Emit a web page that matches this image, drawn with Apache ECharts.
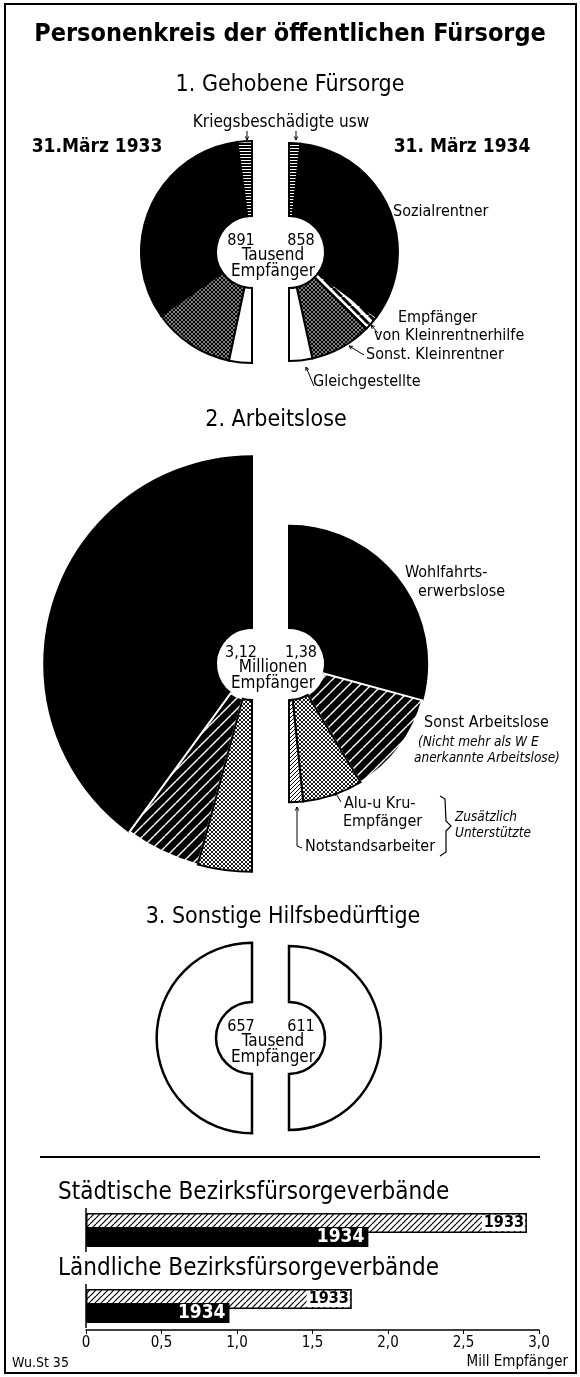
<!DOCTYPE html>
<html>
<head>
<meta charset="utf-8">
<script src="https://cdn.jsdelivr.net/npm/echarts@6/dist/echarts.min.js"></script>
<style>
html, body { margin: 0; padding: 0; background: #fff; }
#main { width: 580px; height: 1377px; }
</style>
</head>
<body>
<div id="main"></div>
<script>
/*
 *  ========== Daten (Tausend Empfänger) ==========
 */
var gehobenNames = ['Kriegsbeschädigte usw', 'Sozialrentner', 'Empfänger von Kleinrentnerhilfe', 'Sonst. Kleinrentner', 'Gleichgestellte'];
var gehoben1933 = [38, 581, 0, 213, 59];
var gehoben1934 = [29, 575, 38, 157, 59];

var arbeitsNames = ['Wohlfahrtserwerbslose', 'Sonst Arbeitslose', 'Alu-u Kru-Empfänger', 'Notstandsarbeiter'];
var arbeits1933 = [2494, 364, 262, 0];
var arbeits1934 = [807, 334, 194, 45];

var sonstigeNames = ['Sonstige Hilfsbedürftige'];
var sonstige1933 = [657];
var sonstige1934 = [611];

// Balken (Mill. Empfänger)
var barCategories = ['Städtische Bezirksfürsorgeverbände', 'Ländliche Bezirksfürsorgeverbände'];
var barYears = ['1933', '1934'];
var bar1933 = [2.92, 1.76];
var bar1934 = [1.87, 0.95];
var xTickLabels = ['0', '0,5', '1,0', '1,5', '2,0', '2,5', '3,0'];

/*
 *  ========== Muster ==========
 */
var FONT = "'DejaVu Sans Condensed', 'DejaVu Sans', sans-serif";

function pattern(size, bg, draw) {
	var c = document.createElement('canvas');
	c.width = size;
	c.height = size;
	var ctx = c.getContext('2d');
	ctx.fillStyle = bg;
	ctx.fillRect(0, 0, size, size);
	draw(ctx, size);
	return { image: c, repeat: 'repeat' };
}

function diag(ctx, s, color, w, back) {
	ctx.strokeStyle = color;
	ctx.lineWidth = w;
	for (var k = -1; k <= 1; k++) {
		ctx.beginPath();
		if (back) {
			ctx.moveTo(k * s, 0);
			ctx.lineTo(k * s + s, s);
		} else {
			ctx.moveTo(k * s, s);
			ctx.lineTo(k * s + s, 0);
		}
		ctx.stroke();
	}
}

var pStripe = pattern(3, '#000', function(ctx, s) {
	ctx.fillStyle = '#fff';
	ctx.fillRect(0, 1, s, 1);
});
var pCrossDark = pattern(4, '#fff', function(ctx, s) {
	diag(ctx, s, '#000', 1.4, false);
	diag(ctx, s, '#000', 1.4, true);
});
var pHatchWide = pattern(9, '#fff', function(ctx, s) {
	diag(ctx, s, '#000', 3, true);
});
var pHatchWhite = pattern(11, '#000', function(ctx, s) {
	diag(ctx, s, '#fff', 1.4, false);
});
var pCrossLight = pattern(4, '#fff', function(ctx, s) {
	diag(ctx, s, '#000', 0.9, false);
	diag(ctx, s, '#000', 0.9, true);
});
var pHatchFine = pattern(4, '#fff', function(ctx, s) {
	diag(ctx, s, '#000', 1, false);
});
var pBar = pattern(6, '#fff', function(ctx, s) {
	diag(ctx, s, '#000', 1.2, false);
});

var gehobenColors = [pStripe, '#000', pHatchWide, pCrossDark, '#fff'];
var gehobenBorders = ['#000', '#000', '#000', '#000', '#000'];
var arbeitsColors = ['#000', pHatchWhite, pCrossLight, pHatchFine];
var arbeitsBorders = ['#000', '#fff', '#000', '#000'];
var sonstigeColors = ['#fff'];
var sonstigeBorders = ['#000'];

/*
 *  ========== Halbkreise ==========
 */
var CX_LEFT = 252, CX_RIGHT = 289, CX_MID = 271;
var HOLE = 36;
var SCALE = 3.72; // Radius ~ Wurzel der Empfängerzahl

function sum(arr) {
	return arr.reduce(function(a, b) { return a + b; }, 0);
}

function halfPie(names, values, colors, borders, cy, left, bw) {
	var data = [];
	values.forEach(function(v, i) {
		if (v > 0) {
			data.push({ name: names[i], value: v, itemStyle: { color: colors[i], borderColor: borders[i] } });
		}
	});
	return {
		type: 'pie',
		silent: true,
		animation: false,
		center: [left ? CX_LEFT : CX_RIGHT, cy],
		radius: [HOLE, SCALE * Math.sqrt(sum(values))],
		startAngle: 90,
		endAngle: left ? 270 : -90,
		clockwise: !left,
		avoidLabelOverlap: false,
		label: { show: false },
		labelLine: { show: false },
		itemStyle: { borderColor: '#000', borderWidth: bw, borderJoin: 'miter' },
		emphasis: { disabled: true },
		data: data
	};
}

var CY1 = 252, CY2 = 664, CY3 = 1038;

function txt(x, y, text, opt) {
	opt = opt || {};
	return {
		type: 'text',
		x: x,
		y: y,
		silent: true,
		style: {
			text: text,
			fill: opt.fill || '#000',
			font: (opt.italic ? 'italic ' : '') + (opt.bold ? 'bold ' : '') + (opt.size || 16) + 'px ' + FONT,
			textAlign: opt.align || 'left',
			textVerticalAlign: 'middle'
		}
	};
}

function line(x1, y1, x2, y2, w) {
	return {
		type: 'line',
		silent: true,
		shape: { x1: x1, y1: y1, x2: x2, y2: y2 },
		style: { stroke: '#000', lineWidth: w || 1 }
	};
}

// Pfeil mit kleiner Spitze am Ende (x2,y2)
function arrow(x1, y1, x2, y2) {
	var a = Math.atan2(y2 - y1, x2 - x1);
	var h = 4;
	return [
		line(x1, y1, x2, y2, 1),
		{
			type: 'polyline',
			silent: true,
			shape: { points: [
				[x2 - h * Math.cos(a - 0.45), y2 - h * Math.sin(a - 0.45)],
				[x2, y2],
				[x2 - h * Math.cos(a + 0.45), y2 - h * Math.sin(a + 0.45)]
			] },
			style: { stroke: '#000', lineWidth: 1, fill: null }
		}
	];
}

function centerLabel(cy, left, right, unit) {
	return [
		txt(CX_MID - 30, cy - 11, left, { size: 16, align: 'center' }),
		txt(CX_MID + 30, cy - 11, right, { size: 16, align: 'center' }),
		txt(CX_MID + 2, cy + 4, unit, { size: 17, align: 'center' }),
		txt(CX_MID + 2, cy + 20, 'Empfänger', { size: 17, align: 'center' })
	];
}

function mill(v) {
	return (v / 1000).toFixed(2).replace('.', ',');
}

var graphics = [
	{
		type: 'rect', silent: true,
		shape: { x: 5, y: 4, width: 571, height: 1369 },
		style: { fill: null, stroke: '#000', lineWidth: 2 }
	},
	txt(290, 34, 'Personenkreis der öffentlichen Fürsorge', { size: 25, bold: true, align: 'center' }),
	txt(290, 85, '1. Gehobene Fürsorge', { size: 23, align: 'center' }),
	txt(281, 123, 'Kriegsbeschädigte usw', { size: 17, align: 'center' }),
	txt(97, 147, '31.März 1933', { size: 19, bold: true, align: 'center' }),
	txt(462, 147, '31. März 1934', { size: 19, bold: true, align: 'center' }),
	txt(393, 212, 'Sozialrentner', { size: 16 }),
	txt(398, 318, 'Empfänger', { size: 16 }),
	txt(374, 336, 'von Kleinrentnerhilfe', { size: 16 }),
	txt(366, 355, 'Sonst. Kleinrentner', { size: 16 }),
	txt(313, 382, 'Gleichgestellte', { size: 16 }),

	txt(276, 420, '2. Arbeitslose', { size: 23, align: 'center' }),
	txt(405, 573, 'Wohlfahrts-', { size: 16 }),
	txt(418, 592, 'erwerbslose', { size: 16 }),
	txt(424, 723, 'Sonst Arbeitslose', { size: 16 }),
	txt(418, 742, '(Nicht mehr als W E', { size: 13.5, italic: true }),
	txt(414, 758, 'anerkannte Arbeitslose)', { size: 13.5, italic: true }),
	txt(344, 804, 'Alu-u Kru-', { size: 16 }),
	txt(343, 822, 'Empfänger', { size: 16 }),
	txt(305, 847, 'Notstandsarbeiter', { size: 16 }),
	txt(455, 817, 'Zusätzlich', { size: 13.5, italic: true }),
	txt(455, 833, 'Unterstützte', { size: 13.5, italic: true }),
	{
		type: 'polyline', silent: true,
		shape: { points: [[440, 796], [445, 799], [446, 821], [451, 826], [446, 831], [446, 852], [440, 856]] },
		style: { stroke: '#000', lineWidth: 1.2, fill: null }
	},
	line(297, 846, 302, 848, 1),

	txt(283, 917, '3. Sonstige Hilfsbedürftige', { size: 23, align: 'center' }),

	line(40, 1157, 540, 1157, 2),
	txt(12, 1363, 'Wu.St 35', { size: 14 }),
	txt(568, 1362, 'Mill Empfänger', { size: 15, align: 'right' })
];

graphics = graphics
	.concat(arrow(247, 131, 247, 140))
	.concat(arrow(296, 131, 296, 140))
	.concat(arrow(378, 333, 371, 325))
	.concat(arrow(364, 355, 349, 346))
	.concat(arrow(314, 386, 306, 367))
	.concat(arrow(341, 802, 335, 792))
	.concat(arrow(297, 846, 297, 807))
	.concat(centerLabel(CY1, String(sum(gehoben1933)), String(sum(gehoben1934)), 'Tausend'))
	.concat(centerLabel(CY2, mill(sum(arbeits1933)), mill(sum(arbeits1934)), 'Millionen'))
	.concat(centerLabel(CY3, String(sum(sonstige1933)), String(sum(sonstige1934)), 'Tausend'));

var myChart = echarts.init(document.getElementById('main'));

var option = {
	animation: false,
	backgroundColor: '#fff',
	textStyle: { fontFamily: FONT },
	grid: {
		left: 86,
		right: 41,
		top: 1192,
		height: 152,
		containLabel: false
	},
	xAxis: {
		type: 'value',
		min: 0,
		max: 3,
		interval: 0.5,
		offset: -14,
		axisLine: { show: true, lineStyle: { color: '#000', width: 1.5 } },
		axisTick: { show: true, length: 4, lineStyle: { color: '#000' } },
		splitLine: { show: false },
		axisLabel: {
			color: '#000',
			fontSize: 15,
			margin: 6,
			formatter: function(v) { return xTickLabels[Math.round(v / 0.5)]; }
		}
	},
	yAxis: {
		type: 'category',
		data: barCategories,
		inverse: true,
		axisLine: { show: false },
		axisTick: { show: false },
		axisLabel: { show: false }
	},
	series: [
		halfPie(gehobenNames, gehoben1933, gehobenColors, gehobenBorders, CY1, true, 2),
		halfPie(gehobenNames, gehoben1934, gehobenColors, gehobenBorders, CY1, false, 2),
		halfPie(arbeitsNames, arbeits1933, arbeitsColors, arbeitsBorders, CY2, true, 2),
		halfPie(arbeitsNames, arbeits1934, arbeitsColors, arbeitsBorders, CY2, false, 2),
		halfPie(sonstigeNames, sonstige1933, sonstigeColors, sonstigeBorders, CY3, true, 2.5),
		halfPie(sonstigeNames, sonstige1934, sonstigeColors, sonstigeBorders, CY3, false, 2.5),
		{
			type: 'bar',
			name: barYears[0],
			data: bar1933,
			barWidth: 20,
			barGap: '-30%',
			silent: true,
			itemStyle: { color: pBar, borderColor: '#000', borderWidth: 1.5 },
			label: {
				show: true,
				position: 'insideRight',
				formatter: '{a}',
				color: '#000',
				fontWeight: 'bold',
				fontSize: 16,
				backgroundColor: '#fff',
				padding: [0, 1, 0, 2],
				distance: 2
			}
		},
		{
			type: 'bar',
			name: barYears[1],
			data: bar1934,
			barWidth: 20,
			barGap: '-30%',
			silent: true,
			itemStyle: { color: '#000' },
			label: {
				show: true,
				position: 'insideRight',
				formatter: '{a}',
				color: '#fff',
				fontWeight: 'bold',
				fontSize: 19,
				distance: 4
			}
		}
	],
	graphic: graphics
};
myChart.setOption(option);

// Kategorienamen über den Balken und senkrechte Grundlinie, aus der Achsenskala
var barExtras = [];
barCategories.forEach(function(cat) {
	var p = myChart.convertToPixel({ gridIndex: 0 }, [0, cat]);
	barExtras.push(line(p[0], p[1] - 22, p[0], p[1] + 22, 1.5));
	barExtras.push(txt(p[0] - 28, p[1] - 37, cat, { size: 24 }));
});
myChart.setOption({ graphic: graphics.concat(barExtras) });
</script>
</body>
</html>
